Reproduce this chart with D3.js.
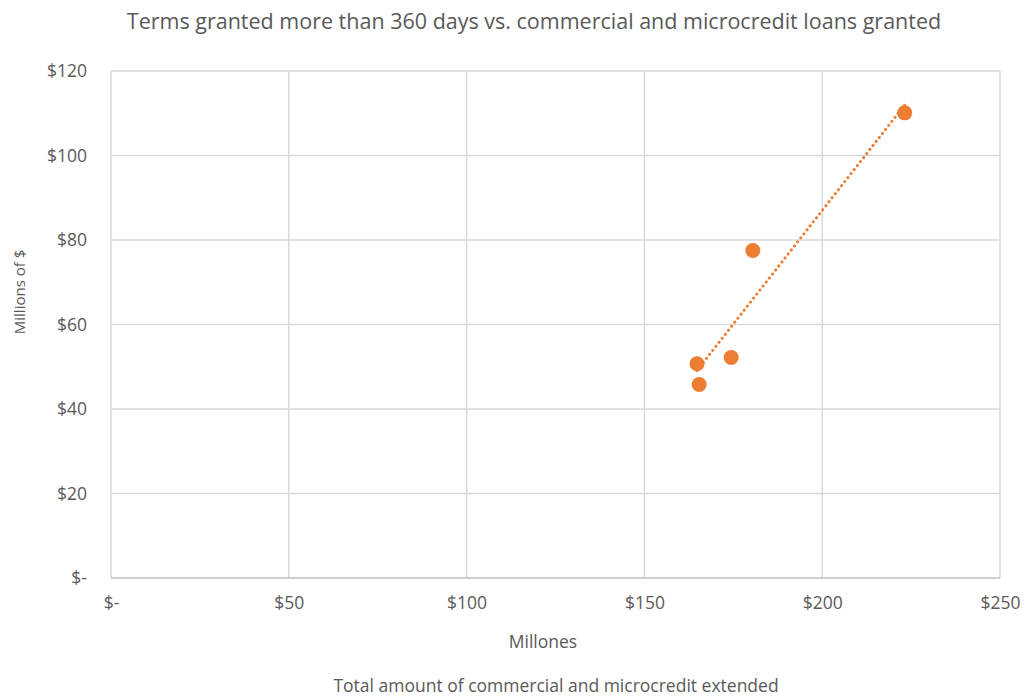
<!DOCTYPE html>
<html>
<head>
<meta charset="utf-8">
<script src="https://cdn.jsdelivr.net/npm/d3@7"></script>
<style>
  html, body { margin: 0; padding: 0; background: #fff; }
  svg text { font-family: "Open Sans", sans-serif; fill: #595959; }
</style>
</head>
<body>
<svg id="chart" width="1029" height="698"></svg>
<script>
// Loans granted (millions): commercial + microcredit total vs. terms over 360 days
const totalExtended = [164.8, 165.4, 174.4, 180.5, 223.2];
const termsOver360 = [50.7, 45.8, 52.2, 77.5, 110.1];
const xTicks = [0, 50, 100, 150, 200, 250];
const yTicks = [0, 20, 40, 60, 80, 100, 120];

const titleText = "Terms granted more than 360 days vs. commercial and microcredit loans granted";
const yTitle = "Millions of $";
const xUnitText = "Millones";
const xTitle = "Total amount of commercial and microcredit extended";

const svg = d3.select("#chart");
const plot = { left: 111, right: 1000, top: 71, bottom: 578 };

const x = d3.scaleLinear().domain([0, 250]).range([plot.left, plot.right]);
const y = d3.scaleLinear().domain([0, 120]).range([plot.bottom, plot.top]);

const fmt = v => v === 0 ? "$-" : "$" + v;

// gridlines
svg.append("g").selectAll("line").data(yTicks.filter(d => d > 0)).join("line")
  .attr("x1", plot.left).attr("x2", plot.right)
  .attr("y1", d => y(d)).attr("y2", d => y(d))
  .attr("stroke", "#d9d9d9").attr("stroke-width", 1.5);
svg.append("g").selectAll("line").data(xTicks).join("line")
  .attr("x1", d => x(d)).attr("x2", d => x(d))
  .attr("y1", plot.top).attr("y2", plot.bottom)
  .attr("stroke", "#d9d9d9").attr("stroke-width", 1.5);

// x axis baseline
svg.append("line")
  .attr("x1", plot.left).attr("x2", plot.right).attr("y1", plot.bottom).attr("y2", plot.bottom)
  .attr("stroke", "#bfbfbf").attr("stroke-width", 1.5);

// axes (labels only)
const xAxis = svg.append("g").attr("transform", `translate(0,${plot.bottom})`)
  .call(d3.axisBottom(x).tickValues(xTicks).tickFormat(fmt).tickSize(0).tickPadding(19));
xAxis.select(".domain").remove();
xAxis.selectAll("text").attr("font-size", 17.5).style("fill", "#595959");

const yAxis = svg.append("g").attr("transform", `translate(${plot.left},0)`)
  .call(d3.axisLeft(y).tickValues(yTicks).tickFormat(fmt).tickSize(0).tickPadding(24));
yAxis.select(".domain").remove();
yAxis.selectAll("text").attr("font-size", 17.5).style("fill", "#595959");

// linear trendline (least squares) across the data range
const n = totalExtended.length;
const mx = d3.mean(totalExtended), my = d3.mean(termsOver360);
let sxy = 0, sxx = 0;
for (let i = 0; i < n; i++) {
  sxy += (totalExtended[i] - mx) * (termsOver360[i] - my);
  sxx += (totalExtended[i] - mx) ** 2;
}
const slope = sxy / sxx, intercept = my - slope * mx;
const [x0, x1] = d3.extent(totalExtended);
svg.append("line")
  .attr("x1", x(x0)).attr("y1", y(intercept + slope * x0))
  .attr("x2", x(x1)).attr("y2", y(intercept + slope * x1))
  .attr("stroke", "#ED7D31").attr("stroke-width", 3)
  .attr("stroke-linecap", "round").attr("stroke-dasharray", "0.1 5");

// points
svg.append("g").selectAll("circle").data(totalExtended).join("circle")
  .attr("cx", d => x(d))
  .attr("cy", (d, i) => y(termsOver360[i]))
  .attr("r", 7.5)
  .attr("fill", "#ED7D31");

// titles
svg.append("text").attr("x", 534).attr("y", 29).attr("text-anchor", "middle")
  .attr("font-size", 21.5).text(titleText);
svg.append("text").attr("transform", "translate(25,292) rotate(-90)")
  .attr("text-anchor", "middle").attr("font-size", 15).text(yTitle);
svg.append("text").attr("x", 543).attr("y", 648).attr("text-anchor", "middle")
  .attr("font-size", 17.5).text(xUnitText);
svg.append("text").attr("x", 556).attr("y", 692).attr("text-anchor", "middle")
  .attr("font-size", 17.5).text(xTitle);
</script>
</body>
</html>
